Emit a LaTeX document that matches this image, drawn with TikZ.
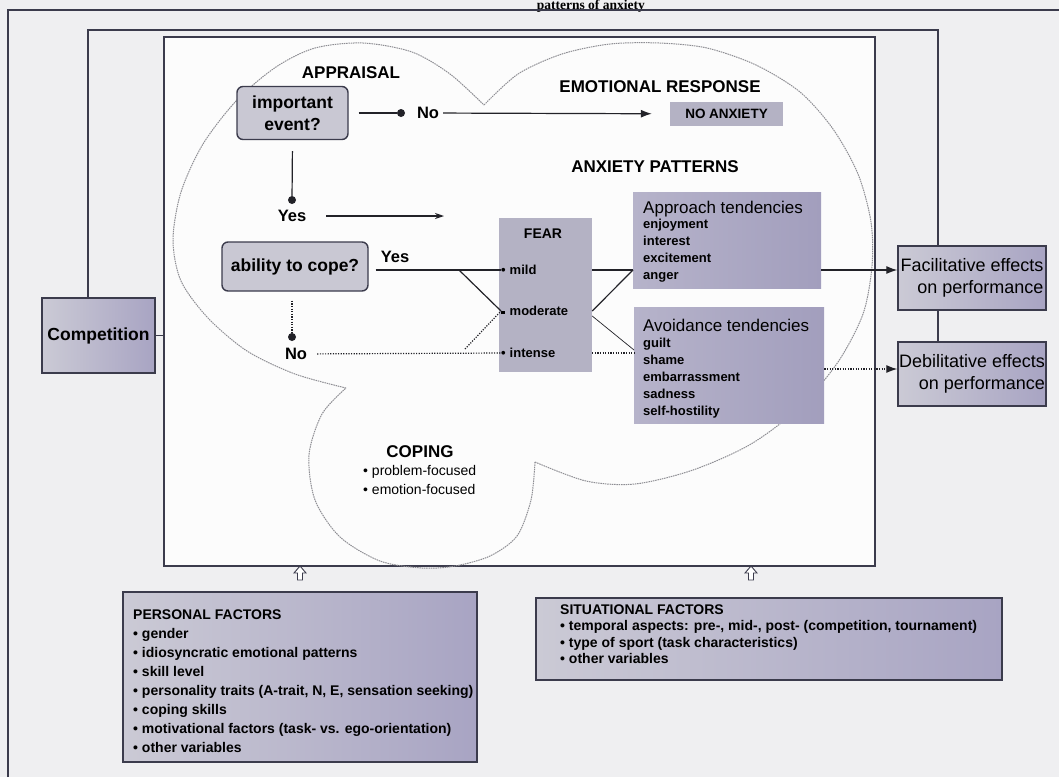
\documentclass[tikz,border=0pt]{standalone}
\usepackage{fontspec}
\setmainfont{Liberation Sans}
\newfontfamily\headserif{Liberation Serif}
\usetikzlibrary{arrows.meta,positioning,calc}
\definecolor{pagebg}{HTML}{EFEFF1}
\definecolor{stagebg}{HTML}{FCFCFC}
\definecolor{rim}{HTML}{3B3B4C}
\definecolor{ink}{HTML}{222228}
\definecolor{qfill}{HTML}{C9C8D3}
\definecolor{tendL}{HTML}{B6B3CA}
\definecolor{tendR}{HTML}{A29EBD}
\definecolor{fearfill}{HTML}{B4B2C4}
\definecolor{factL}{HTML}{CBCAD5}
\definecolor{factR}{HTML}{A8A4C3}
\definecolor{cloudc}{HTML}{8E8E94}
\newcommand{\fsz}[2]{\fontsize{#1}{#2}\selectfont}
\tikzset{
  hd/.style={font=\fsz{17}{20}\bfseries, inner sep=0pt},
  lbl/.style={font=\fsz{16.5}{19}\bfseries, inner sep=0pt},
  qbox/.style={draw=rim, line width=1.4pt, rounded corners=6pt, fill=qfill, align=center, font=\fsz{17.5}{22}\bfseries, inner sep=0pt},
  sq/.style={draw=rim, line width=1.4pt, inner sep=0pt},
  tendbox/.style={left color=tendL, right color=tendR, inner sep=0pt},
  tendhd/.style={font=\fsz{17}{20}, anchor=base west, inner sep=0pt},
  tenditem/.style={font=\fsz{13}{15}\bfseries, anchor=base west, inner sep=0pt},
  fearitem/.style={font=\fsz{13}{15}\bfseries, anchor=west, inner sep=0pt},
  factitem/.style={font=\fsz{14}{16}\bfseries, anchor=base west, inner sep=0pt},
  effect/.style={sq, left color=factL, right color=factR, align=right, font=\fsz{18}{22}, minimum width=148pt, minimum height=64pt},
  knob/.style={circle, fill=ink, inner sep=0pt, minimum size=8pt},
  link/.style={draw=ink, line width=1.2pt},
  thinlink/.style={draw=ink, line width=0.7pt},
  dotlink/.style={draw=ink, line width=1.2pt, dash pattern=on 1.2pt off 1.4pt},
  frame/.style={draw=rim, line width=1.2pt},
  cloud/.style={draw=cloudc, line width=1pt, dash pattern=on 1.5pt off 0.8pt},
  tip/.style={-{Latex[length=11pt, width=8pt]}},
  smalltip/.style={-{Stealth[length=9pt, width=6pt]}},
  hollowtip/.style={draw=rim, fill=white, line width=0.9pt, line join=miter},
}

\begin{document}
\begin{tikzpicture}[x=1pt, y=-1pt]
  \useasboundingbox (0,0) rectangle (1059,777);
  \fill[pagebg] (0,0) rectangle (1059,777);
  % page heading
  \node[font=\headserif\fsz{13.5}{16}\bfseries, anchor=base east, inner sep=0pt] (heading) at (645,9.5) {patterns of anxiety};
  \draw[frame] (8,777) -- (8,10) -- (1059,10);

  % stage and cloud
  \node[draw=rim, line width=1.1pt, fill=stagebg, minimum width=711pt, minimum height=529pt, inner sep=0pt] (stage) at (519.5,301.5) {};
  \draw[cloud] plot[smooth] coordinates {(346,388) (295,374) (247,351) (208,318) (181,281) (173,240) (181,192) (203,144) (237,100) (276,67) (315,48) (363,43) (412,52) (450,74) (484,105)};
  \draw[cloud] plot[smooth] coordinates {(484,105) (518,74) (562,54) (610,44) (659,43) (707,48) (756,65) (800,92) (833,129) (858,174) (871,222) (872,266) (863,314) (838,362) (800,407) (751,444) (693,470) (635,484) (586,481) (535,462)};
  \draw[cloud] plot[smooth] coordinates {(535,462) (531,500) (517,536) (490,556) (455,566) (422,568) (380,561) (340,537) (315,500) (309,455) (322,414) (346,388)};

  % headings
  \node[hd] (appraisal) at (351,73) {APPRAISAL};
  \node[hd] (emoresp) at (660,87) {EMOTIONAL RESPONSE};
  \node[hd] (anxpat) at (655,167) {ANXIETY PATTERNS};
  \node[hd] (coping) at (420,452) {COPING};
  \node[font=\fsz{14}{17}, anchor=west, inner sep=0pt] (copeA) at (363,472) {\textbullet\ problem-focused};
  \node[font=\fsz{14}{17}, anchor=west, inner sep=0pt] (copeB) at (363,489) {\textbullet\ emotion-focused};

  % appraisal
  \node[qbox, minimum width=111pt, minimum height=53pt] (imp) at (292.5,113) {important\\event?};
  \node[knob] (nodot) at (401,113) {};
  \node[lbl] (no1) at (428,113) {No};
  \node[fill=fearfill, minimum width=113pt, minimum height=24pt, inner sep=0pt, font=\fsz{13.5}{16}\bfseries] (noanx) at (726.5,114) {NO ANXIETY};
  \node[knob] (yesdot) at (292,200) {};
  \node[lbl] (yes1) at (292,216) {Yes};
  \coordinate (yesend) at (444,216);
  \node[qbox, minimum width=146pt, minimum height=49pt] (abil) at (295,266.5) {ability to cope?};
  \node[lbl] (yes2) at (395,257) {Yes};
  \node[knob] (nodot2) at (292,337) {};
  \node[lbl] (no2) at (296,354) {No};

  % fear
  \node[fill=fearfill, minimum width=93pt, minimum height=154pt, inner sep=0pt] (fear) at (545.5,295) {};
  \node[font=\fsz{14}{16}\bfseries, inner sep=0pt] (fearhd) at (543,234) {FEAR};
  \node[fearitem] (mild) at (501,270) {\textbullet\hspace{4pt}mild};
  \node[fearitem] (moder) at (501,311) {\rule[1.5pt]{3.5pt}{3.5pt}\hspace{5pt}moderate};
  \node[fearitem] (intense) at (501,353) {\textbullet\hspace{4pt}intense};

  % tendencies
  \node[tendbox, anchor=north west, minimum width=188pt, minimum height=96pt] (appr) at (633,192) {};
  \node[tendhd] (apprhd) at (643,213) {Approach tendencies};
  \foreach \w [count=\i] in {enjoyment,interest,excitement,anger}
    \node[tenditem] (appr\i) at (643,{211+17*\i}) {\w};
  \node[tendbox, anchor=north west, minimum width=190pt, minimum height=116pt] (avoid) at (634,307) {};
  \node[tendhd] (avoidhd) at (643,331) {Avoidance tendencies};
  \foreach \w [count=\i] in {guilt,shame,embarrassment,sadness,self-hostility}
    \node[tenditem] (avoid\i) at (643,{330+17*\i}) {\w};

  % effects and competition
  \node[effect] (facil) at (972,278) {Facilitative effects\\on performance};
  \node[effect] (debil) at (972,374) {Debilitative effects\\on performance};
  \node[sq, left color=factL, right color=factR, minimum width=113pt, minimum height=75pt, font=\fsz{17.5}{20}\bfseries] (comp) at (98.5,335.5) {Competition};

  % factors
  \node[sq, left color=factL, right color=factR, minimum width=354pt, minimum height=170pt] (pers) at (300,677) {};
  \foreach \w [count=\i from 0] in {PERSONAL FACTORS,\textbullet\ gender,\textbullet\ idiosyncratic emotional patterns,\textbullet\ skill level,\textbullet\ personality traits (A-trait{,} N{,} E{,} sensation seeking),\textbullet\ coping skills,\textbullet\ motivational factors (task- vs. ego-orientation),\textbullet\ other variables}
    \node[factitem] (pers\i) at (133,{619+19*\i}) {\w};
  \node[sq, left color=factL, right color=factR, minimum width=466pt, minimum height=82pt] (situ) at (769,639) {};
  \foreach \w [count=\i from 0] in {SITUATIONAL FACTORS,\textbullet\ temporal aspects: pre-{,} mid-{,} post- (competition{,} tournament),\textbullet\ type of sport (task characteristics),\textbullet\ other variables}
    \node[factitem] (situ\i) at (560,{614+16.5*\i}) {\w};
  \foreach \ax in {300,751}
    \draw[hollowtip] (\ax-2.5,580) -- (\ax+2.5,580) -- (\ax+2.5,573) -- (\ax+6,573) -- (\ax,566) -- (\ax-6,573) -- (\ax-2.5,573) -- cycle;

  % rails
  \coordinate (railL) at (88,30);
  \coordinate (railR) at (938,30);
  \draw[frame] (railL |- comp.north) -- (railL) -- (railR) -- (railR |- facil.north);
  \draw[frame] (railR |- facil.south) -- (railR |- debil.north);
  \draw[frame] (comp.east) -- (comp.east -| stage.west);

  % appraisal links
  \draw[link, shorten <=10pt] (imp.east) -- (nodot);
  \draw[link, tip, shorten <=4pt, shorten >=18pt] (no1) -- (noanx);
  \draw[link, shorten <=11pt] (imp.south) -- (yesdot);
  \draw[link, smalltip, shorten <=20pt] (yes1) -- (yesend);
  \draw[link, shorten <=7pt] (abil.east |- mild.west) -- (mild.west);
  \coordinate (yfork) at (459,270);
  \draw[link] (yfork) -- (moder.west);
  \draw[dotlink, shorten <=9pt] (abil.south -| nodot2) -- (nodot2);
  \draw[dotlink, shorten <=10pt] (no2) -- (intense.west);
  \coordinate (nfork) at (465,349);
  \draw[dotlink] (nfork) -- (moder.west);

  % fear to tendencies
  \coordinate (apin) at (appr.west |- mild);
  \coordinate (avin) at (avoid.west |- intense);
  \coordinate (fmod) at (fear.east |- moder);
  \draw[link] (fear.east |- mild) -- (apin);
  \draw[link] (fmod) -- (apin);
  \draw[thinlink] ([yshift=-5pt]fmod) -- ([yshift=3pt]avin);
  \draw[dotlink] (fear.east |- intense) -- (avin);

  % tendencies to effects
  \draw[link, tip] (appr.east |- mild) -- (facil.west |- mild);
  \coordinate (dbin) at ([yshift=5pt]debil.west);
  \draw[dotlink, tip] (avoid.east |- dbin) -- (dbin);
\end{tikzpicture}
\end{document}
